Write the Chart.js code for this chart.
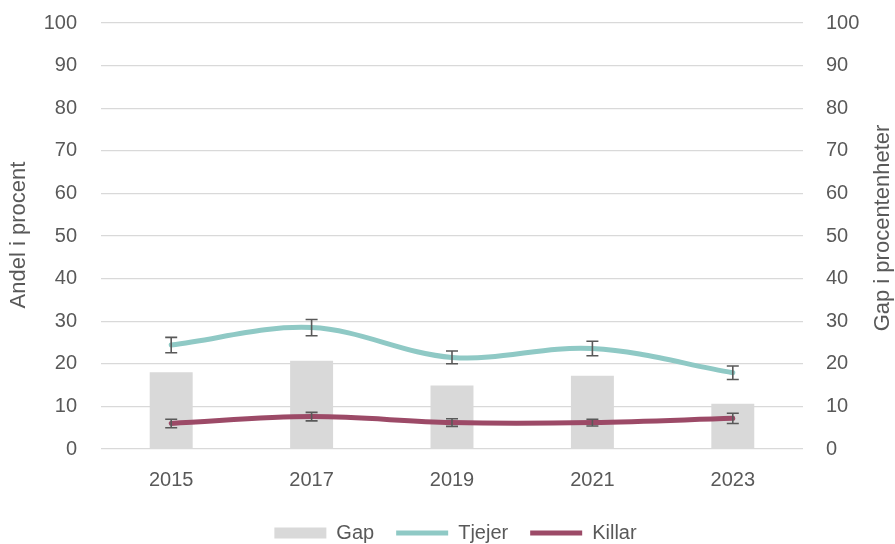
<!DOCTYPE html>
<html>
<head>
<meta charset="utf-8">
<title>Andel i procent</title>
<script src="https://cdn.jsdelivr.net/npm/chart.js@4"></script>
<style>
  html, body { margin: 0; padding: 0; background: #ffffff; }
  #wrap { width: 895px; height: 544px; position: relative; }
</style>
</head>
<body>
<div id="wrap"><canvas id="chart"></canvas></div>
<script>
// Survey years
const years = ['2015', '2017', '2019', '2021', '2023'];
// Share in percent, with error margins (± percentage points)
const tjejer = [24.4, 28.5, 21.5, 23.6, 17.9];
const tjejerErr = [1.8, 1.9, 1.5, 1.7, 1.6];
const killar = [6.0, 7.6, 6.2, 6.2, 7.2];
const killarErr = [1.0, 1.0, 0.9, 0.8, 1.2];
// Gap between the groups, in percentage points
const gap = [18.0, 20.7, 14.9, 17.2, 10.6];
// Axis range
const axisMin = 0;
const axisMax = 100;
const axisStep = 10;

const textColor = '#595959';
const gridColor = '#d9d9d9';
const fontFamily = "'Liberation Sans', Arial, sans-serif";
const leftTitle = 'Andel i procent';
const rightTitle = 'Gap i procentenheter';

// Draws vertical error bars with caps for datasets that carry an `errors` array
const errorBars = {
  id: 'errorBars',
  afterDatasetsDraw(chart) {
    const ctx = chart.ctx;
    chart.data.datasets.forEach((ds, i) => {
      if (!ds.errors) return;
      const meta = chart.getDatasetMeta(i);
      const yScale = chart.scales[meta.yAxisID];
      ctx.save();
      ctx.strokeStyle = '#595959';
      ctx.lineWidth = 1.6;
      meta.data.forEach((pt, j) => {
        const v = ds.data[j];
        const e = ds.errors[j];
        const x = pt.x;
        const yTop = yScale.getPixelForValue(v + e);
        const yBot = yScale.getPixelForValue(v - e);
        const cap = 6;
        ctx.beginPath();
        ctx.moveTo(x, yTop); ctx.lineTo(x, yBot);
        ctx.moveTo(x - cap, yTop); ctx.lineTo(x + cap, yTop);
        ctx.moveTo(x - cap, yBot); ctx.lineTo(x + cap, yBot);
        ctx.stroke();
      });
      ctx.restore();
    });
  }
};

// Both axis titles, written bottom-to-top
const axisTitles = {
  id: 'axisTitles',
  afterDraw(chart) {
    const ctx = chart.ctx;
    const area = chart.chartArea;
    const midY = (area.top + area.bottom) / 2;
    const draw = (text, x, y) => {
      ctx.save();
      ctx.translate(x, y);
      ctx.rotate(-Math.PI / 2);
      ctx.fillStyle = textColor;
      ctx.font = '22px ' + fontFamily;
      ctx.textAlign = 'center';
      ctx.textBaseline = 'middle';
      ctx.fillText(text, 0, 0);
      ctx.restore();
    };
    draw(leftTitle, 19, midY - 1);
    draw(rightTitle, chart.width - 12, midY - 8);
  }
};

new Chart(document.getElementById('chart'), {
  data: {
    labels: years,
    datasets: [
      {
        type: 'bar',
        label: 'Gap',
        data: gap,
        yAxisID: 'y2',
        backgroundColor: '#d9d9d9',
        borderWidth: 0,
        barPercentage: 0.6,
        categoryPercentage: 0.51,
        pointStyle: 'rect',
        order: 3
      },
      {
        type: 'line',
        label: 'Tjejer',
        data: tjejer,
        errors: tjejerErr,
        yAxisID: 'y',
        borderColor: '#8fc9c5',
        backgroundColor: '#8fc9c5',
        borderWidth: 5,
        borderCapStyle: 'round',
        tension: 0.35,
        pointRadius: 0,
        pointHoverRadius: 0,
        pointStyle: 'line',
        order: 2
      },
      {
        type: 'line',
        label: 'Killar',
        data: killar,
        errors: killarErr,
        yAxisID: 'y',
        borderColor: '#9c4a67',
        backgroundColor: '#9c4a67',
        borderWidth: 5,
        borderCapStyle: 'round',
        tension: 0.35,
        pointRadius: 0,
        pointHoverRadius: 0,
        pointStyle: 'line',
        order: 1
      }
    ]
  },
  options: {
    responsive: true,
    maintainAspectRatio: false,
    animation: false,
    layout: { padding: { top: 23, bottom: -9, left: 16, right: 0 } },
    plugins: {
      tooltip: { enabled: false },
      legend: {
        position: 'bottom',
        reverse: true,
        labels: {
          usePointStyle: true,
          pointStyleWidth: 52,
          boxHeight: 11,
          padding: 22,
          color: textColor,
          font: { family: fontFamily, size: 20 }
        }
      }
    },
    scales: {
      x: {
        grid: { display: false, drawTicks: false },
        border: { display: false },
        ticks: { color: textColor, padding: 19, font: { family: fontFamily, size: 20 } },
        afterFit(scale) { scale.height = 52; }
      },
      y: {
        position: 'left',
        min: axisMin,
        max: axisMax,
        grid: { color: gridColor, lineWidth: 1.3, drawTicks: false },
        border: { display: false },
        ticks: { stepSize: axisStep, color: textColor, padding: 24, font: { family: fontFamily, size: 20 } },
        afterFit(scale) { scale.width = 85; scale.paddingTop = 0; scale.paddingBottom = 0; }
      },
      y2: {
        position: 'right',
        min: axisMin,
        max: axisMax,
        grid: { display: false, drawTicks: false },
        border: { display: false },
        ticks: { stepSize: axisStep, color: textColor, padding: 23, font: { family: fontFamily, size: 20 } },
        afterFit(scale) { scale.width = 92; scale.paddingTop = 0; scale.paddingBottom = 0; }
      }
    }
  },
  plugins: [errorBars, axisTitles]
});
</script>
</body>
</html>
